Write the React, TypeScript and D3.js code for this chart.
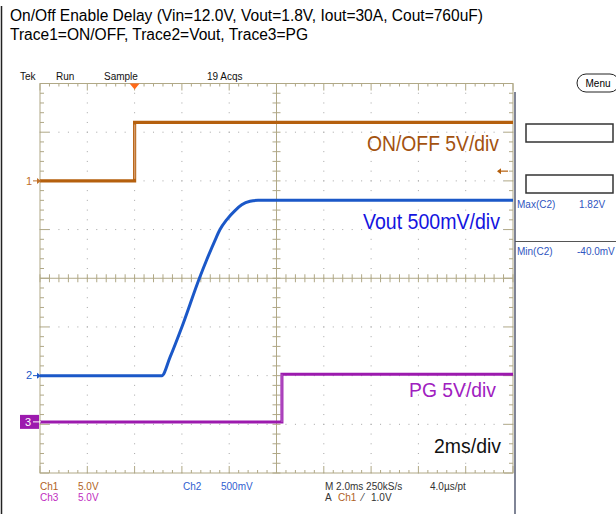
import React from 'react';
import * as d3 from 'd3';

// scope traces, time in ms, volts per channel
const ch1Time = [-4, 0, 0, 16];
const ch1Volt = [0, 0, 6.0, 6.0];
const ch2Time = [-4, 1.15, 1.5, 2.0, 2.74, 3.05, 3.4, 3.61, 3.89, 4.245, 4.53, 4.88, 5.22, 16];
const ch2Volt = [0, 0, 0.19, 0.5, 1.0, 1.19, 1.39, 1.5, 1.6, 1.695, 1.754, 1.79, 1.8, 1.8];
const ch3Time = [-4, 6.23, 6.23, 16];
const ch3Volt = [0, 0, 4.9, 4.9];

const titleLines = [
  'On/Off Enable Delay (Vin=12.0V, Vout=1.8V, Iout=30A, Cout=760uF)',
  'Trace1=ON/OFF, Trace2=Vout, Trace3=PG'
];
const traceLabels = ['ON/OFF 5V/div', 'Vout 500mV/div', 'PG 5V/div', '2ms/div'];
const timeDomain = [-4, 16];
const divDomain = [4, -4];

const FONT = '"Liberation Sans", Arial, sans-serif';
const GRID = '#B0A886';

export default function App(): JSX.Element {
  const gx0 = 40;
  const gx1 = 513;
  const gy0 = 83.5;
  const gy1 = 473;
  const x = d3.scaleLinear().domain(timeDomain).range([gx0, gx1]);
  const yDiv = d3.scaleLinear().domain(divDomain).range([gy0, gy1]);
  const dx = (gx1 - gx0) / 10;
  const dy = (gy1 - gy0) / 8;

  const chY = (offset: number, vpd: number) => (v: number) => yDiv(offset + v / vpd);
  const y1 = chY(2, 5);
  const y2 = chY(-2, 0.5);
  const y3 = chY(-2.95, 5);

  const mk = (ts: number[], vs: number[], yf: (v: number) => number, curve = d3.curveLinear) =>
    d3
      .line<number>()
      .x((_, i) => x(ts[i]))
      .y((_, i) => yf(vs[i]))
      .curve(curve)(ts) || '';

  const minorX = d3.range(0, 51).map((i) => gx0 + (i * dx) / 5);
  const minorY = d3.range(0, 41).map((i) => gy0 + (i * dy) / 5);
  const majorX = d3.range(1, 10).map((i) => gx0 + i * dx);
  const majorY = d3.range(1, 8).map((i) => gy0 + i * dy);
  const cx = gx0 + 5 * dx;
  const cy = gy0 + 4 * dy;

  const dots: JSX.Element[] = [];
  majorX.forEach((mx, i) =>
    minorY.forEach((my, j) => {
      if (mx !== cx) dots.push(<rect key={`vx${i}-${j}`} x={mx - 0.5} y={my - 0.5} width={1} height={1} fill="#A5A5A5" />);
    })
  );
  majorY.forEach((my, i) =>
    minorX.forEach((mx, j) => {
      if (my !== cy) dots.push(<rect key={`hy${i}-${j}`} x={mx - 0.5} y={my - 0.5} width={1} height={1} fill="#A5A5A5" />);
    })
  );

  const ticks: JSX.Element[] = [];
  minorX.forEach((mx, i) => {
    const len = i % 5 === 0 ? 7 : 3;
    ticks.push(<line key={`t${i}`} x1={mx} x2={mx} y1={gy0} y2={gy0 + len} />);
    ticks.push(<line key={`b${i}`} x1={mx} x2={mx} y1={gy1} y2={gy1 - len} />);
    ticks.push(<line key={`c${i}`} x1={mx} x2={mx} y1={cy - 4} y2={cy + 4} />);
  });
  minorY.forEach((my, i) => {
    const len = i % 5 === 0 ? 9 : 4;
    ticks.push(<line key={`l${i}`} x1={gx0} x2={gx0 + len} y1={my} y2={my} />);
    ticks.push(<line key={`r${i}`} x1={gx1} x2={gx1 - len} y1={my} y2={my} />);
    ticks.push(<line key={`m${i}`} x1={cx - 4} x2={cx + 4} y1={my} y2={my} />);
  });

  const c1 = '#B5600E';
  const c2 = '#1B58C8';
  const c3 = '#9C1AAE';

  return (
    <svg
      width={616}
      height={514}
      style={{ position: 'absolute', left: 0, top: 0, background: '#fff' }}
      fontFamily={FONT}
    >
      <rect width={616} height={514} fill="#fff" />
      <line x1={1.5} x2={1.5} y1={6} y2={514} stroke="#222" strokeWidth={1.5} />
      <text x={10} y={21} fontSize={16} textLength={473} lengthAdjust="spacingAndGlyphs">{titleLines[0]}</text>
      <text x={10} y={40} fontSize={16} textLength={298} lengthAdjust="spacingAndGlyphs">{titleLines[1]}</text>

      {/* header */}
      <g fontSize={10} fill="#111">
        <text x={20} y={80}>Tek</text>
        <text x={56} y={80}>Run</text>
        <text x={104} y={80}>Sample</text>
        <text x={207} y={80}>19 Acqs</text>
      </g>
      <rect x={577} y={74} width={42} height={18} rx={9} fill="#fff" stroke="#222" strokeWidth={1} />
      <text x={598} y={87} fontSize={10} textAnchor="middle">Menu</text>

      {/* graticule */}
      <g>{dots}</g>
      <g stroke={GRID} strokeWidth={1}>
        {ticks}
        <rect x={gx0} y={gy0} width={gx1 - gx0} height={gy1 - gy0} fill="none" />
        <line x1={cx} x2={cx} y1={gy0} y2={gy1} />
        <line x1={gx0} x2={gx1} y1={cy} y2={cy} />
      </g>
      <line x1={515} x2={515} y1={92} y2={514} stroke="#2A3350" strokeWidth={1.2} />

      {/* trigger marker */}
      <path d={`M${x(0) - 5},${gy0} L${x(0) + 5},${gy0} L${x(0)},${gy0 + 6} Z`} fill="#FF6A1A" />

      {/* traces */}
      <path d={mk(ch1Time, ch1Volt, y1)} fill="none" stroke={c1} strokeWidth={3.2} strokeLinejoin="miter" />
      <line x1={x(0)} x2={x(0)} y1={y1(0) - 2} y2={y1(6) + 2} stroke="#D49A6A" strokeWidth={1.5} />
      <path d={mk(ch2Time, ch2Volt, y2, d3.curveMonotoneX)} fill="none" stroke={c2} strokeWidth={3} />
      <path d={mk(ch3Time, ch3Volt, y3)} fill="none" stroke={c3} strokeWidth={3} />
      <line x1={x(6.23)} x2={x(6.23)} y1={y3(0)} y2={y3(4.9)} stroke="#B050C0" strokeWidth={1.5} />

      {/* ground markers */}
      <text x={26} y={185} fontSize={11} fill="#C07028">1</text>
      <line x1={33} x2={41} y1={y1(0)} y2={y1(0)} stroke="#C07028" strokeWidth={1} />
      <path d={`M${41},${y1(0)} l-4,-3 v6 Z`} fill="#C07028" />
      <text x={26} y={379} fontSize={11} fill={c2}>2</text>
      <line x1={33} x2={41} y1={y2(0)} y2={y2(0)} stroke={c2} strokeWidth={1} />
      <path d={`M${41},${y2(0)} l-4,-3 v6 Z`} fill={c2} />
      <rect x={20} y={y3(0) - 7} width={19} height={14} fill={c3} />
      <text x={25} y={y3(0) + 4} fontSize={11} fill="#fff">3</text>
      <line x1={33} x2={41} y1={y3(0)} y2={y3(0)} stroke="#fff" strokeWidth={1} />

      {/* trigger level */}
      <line x1={498} x2={508} y1={y1(1)} y2={y1(1)} stroke="#B5600E" strokeWidth={1.2} />
      <path d={`M${497},${y1(1)} l4,-3 v6 Z`} fill="#B5600E" />

      {/* trace labels */}
      <text x={367} y={151} fontSize={22} fill="#A3520F" textLength={132} lengthAdjust="spacingAndGlyphs">{traceLabels[0]}</text>
      <text x={363} y={229} fontSize={22} fill="#1414E0" textLength={137} lengthAdjust="spacingAndGlyphs">{traceLabels[1]}</text>
      <text x={409} y={397} fontSize={20} fill="#A020C0" textLength={87} lengthAdjust="spacingAndGlyphs">{traceLabels[2]}</text>
      <text x={434} y={453} fontSize={21} fill="#111" textLength={67} lengthAdjust="spacingAndGlyphs">{traceLabels[3]}</text>

      {/* right panel */}
      <rect x={526} y={124} width={87} height={18} fill="#fff" stroke="#333" strokeWidth={1.5} />
      <rect x={526} y={175} width={87} height={18} fill="#fff" stroke="#333" strokeWidth={1.5} />
      <g fontSize={10} fill="#2F55C0">
        <text x={517} y={208}>Max(C2)</text>
        <text x={579} y={208}>1.82V</text>
        <text x={517} y={255}>Min(C2)</text>
        <text x={577} y={255}>-40.0mV</text>
      </g>
      <line x1={515} x2={616} y1={241.5} y2={241.5} stroke="#555" strokeWidth={1} />

      {/* bottom readout */}
      <g fontSize={10}>
        <text x={40} y={490} fill="#B0621E">Ch1</text>
        <text x={78} y={490} fill="#B0621E">5.0V</text>
        <text x={40} y={501} fill="#C02CC0">Ch3</text>
        <text x={78} y={501} fill="#C02CC0">5.0V</text>
        <text x={183} y={490} fill="#3060D0">Ch2</text>
        <text x={221} y={490} fill="#3060D0">500mV</text>
        <text x={325} y={490} fill="#333">M 2.0ms 250kS/s</text>
        <text x={430} y={490} fill="#333">4.0µs/pt</text>
        <text x={325} y={501} fill="#333">A</text>
        <text x={338} y={501} fill="#B0621E">Ch1</text>
        <text x={362} y={501} fill="#333">⁄</text>
        <text x={371} y={501} fill="#333">1.0V</text>
      </g>
    </svg>
  );
}
